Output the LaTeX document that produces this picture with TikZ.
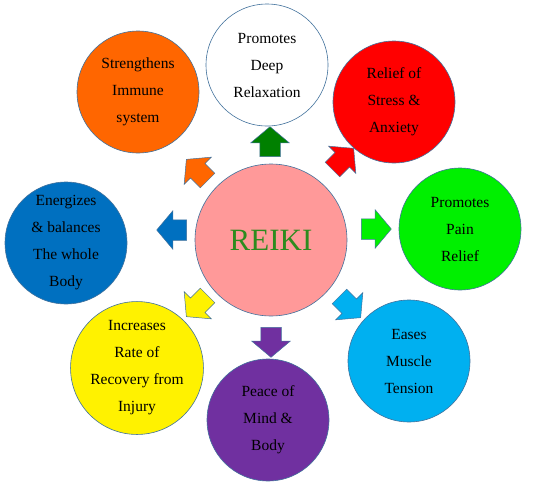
\documentclass[tikz,border=0pt]{standalone}
\usepackage{fontspec}
\setmainfont{Liberation Serif}
\usetikzlibrary{shapes.arrows}
\definecolor{edgeblue}{HTML}{41719C}
\definecolor{reikipink}{HTML}{FF9999}
\definecolor{reikigreen}{HTML}{2E8B1E}
\definecolor{leafgreen}{HTML}{008000}
\definecolor{limegreen}{HTML}{00F000}
\definecolor{skyblue}{HTML}{00B0F0}
\definecolor{deepblue}{HTML}{0070C0}
\definecolor{violet}{HTML}{7030A0}
\definecolor{brightorange}{HTML}{FF6600}
\tikzset{
  benefit/.style={circle, draw=edgeblue, line width=0.6pt, fill=#1,
    minimum size=122pt, inner sep=0pt, align=center,
    font=\fontsize{15.5}{27}\selectfont},
  blockarrow/.style={single arrow, draw=edgeblue, line width=0.5pt, fill=#1,
    minimum height=30pt, inner sep=10pt,
    single arrow head extend=9pt, single arrow tip angle=100}
}
\begin{document}
\begin{tikzpicture}[x=1pt,y=-1pt]
\useasboundingbox (0,0) rectangle (536,493);
% centre
\node[circle, draw=edgeblue, line width=0.6pt, fill=reikipink, minimum size=152pt,
  text=reikigreen, font=\fontsize{31}{31}\selectfont] (reiki) at (271,240) {REIKI};
% benefits
\foreach \name/\x/\y/\col/\txt in {
  relax/267/65/white/{Promotes\\Deep\\Relaxation},
  stress/394/102/red/{Relief of\\Stress \&\\Anxiety},
  pain/460/229/limegreen/{Promotes\\Pain\\Relief},
  muscle/409/361/skyblue/{Eases\\Muscle\\Tension},
  peace/268/420/violet/{Peace of\\Mind \&\\Body},
  recovery/137/368/yellow/{Increases\\Rate of\\Recovery from\\Injury},
  energy/66/243/deepblue/{Energizes\\\& balances\\The whole\\Body},
  immune/138/92/brightorange/{Strengthens\\Immune\\system}}{
\node[benefit=\col] (\name) at (\x,\y) {\txt};
}
% arrows
\foreach \name/\x/\y/\col/\ang in {
  relax/270/146/leafgreen/90,
  stress/340/162/red/45,
  pain/372/229/limegreen/0,
  muscle/347/304/skyblue/-45,
  peace/271/338/violet/-90,
  recovery/200/303/yellow/225,
  energy/176/230/deepblue/180,
  immune/200/173/brightorange/135}{
\node[blockarrow=\col, rotate=\ang] (arr-\name) at (\x,\y) {};
}
\end{tikzpicture}
\end{document}
